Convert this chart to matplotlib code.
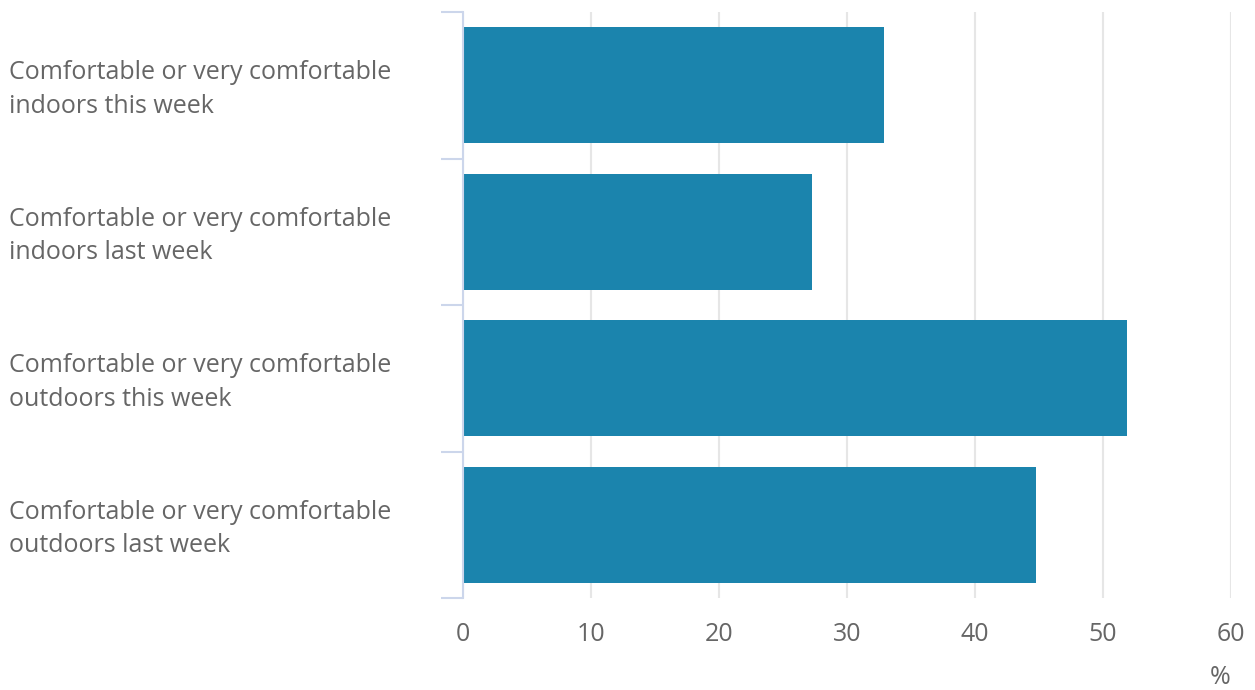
import matplotlib.pyplot as plt
from matplotlib.transforms import blended_transform_factory

categories = [
    "Comfortable or very comfortable\nindoors this week",
    "Comfortable or very comfortable\nindoors last week",
    "Comfortable or very comfortable\noutdoors this week",
    "Comfortable or very comfortable\noutdoors last week",
]
values = [32.9, 27.3, 51.9, 44.8]
x_ticks = [0, 10, 20, 30, 40, 50, 60]

plt.rcParams['font.family'] = ['Open Sans', 'DejaVu Sans']
W, H = 1255, 690
fig = plt.figure(figsize=(W / 100, H / 100), dpi=100)
ax = fig.add_axes([463 / W, 1 - 598 / H, (1231 - 463) / W, (598 - 12) / H])

pos = list(range(len(categories)))
ax.barh(pos, values, height=0.79, color='#1b84ad', zorder=3)

ax.set_xlim(0, 60)
ax.set_ylim(len(categories) - 0.5, -0.5)
ax.set_xticks(x_ticks)
ax.set_xticklabels([str(t) for t in x_ticks])
ax.tick_params(axis='x', length=0, pad=17, labelsize=18, labelcolor='#666666')
ax.grid(axis='x', color='#e6e6e6', linewidth=1.5, zorder=0)

# y axis: only band boundary ticks, labels drawn as left-aligned text
ax.set_yticks([])
ax.set_yticks([p - 0.5 for p in pos] + [len(pos) - 0.5], minor=True)
ax.tick_params(axis='y', which='minor', length=16, width=1.5, color='#ccd6eb')
for s in ['top', 'right', 'bottom']:
    ax.spines[s].set_visible(False)
ax.spines['left'].set_color('#ccd6eb')
ax.spines['left'].set_linewidth(1.5)
ax.spines['left'].set_zorder(4)

trans = blended_transform_factory(fig.transFigure, ax.transData)
for p, lab in zip(pos, categories):
    ax.text(9 / W, p + 0.03, lab, transform=trans, ha='left', va='center',
            fontsize=18, color='#666666', linespacing=1.45)

fig.text(1220 / W, 1 - 678 / H, '%', ha='center', va='center',
         fontsize=18, color='#666666')

fig.savefig('out.png', dpi=100)
